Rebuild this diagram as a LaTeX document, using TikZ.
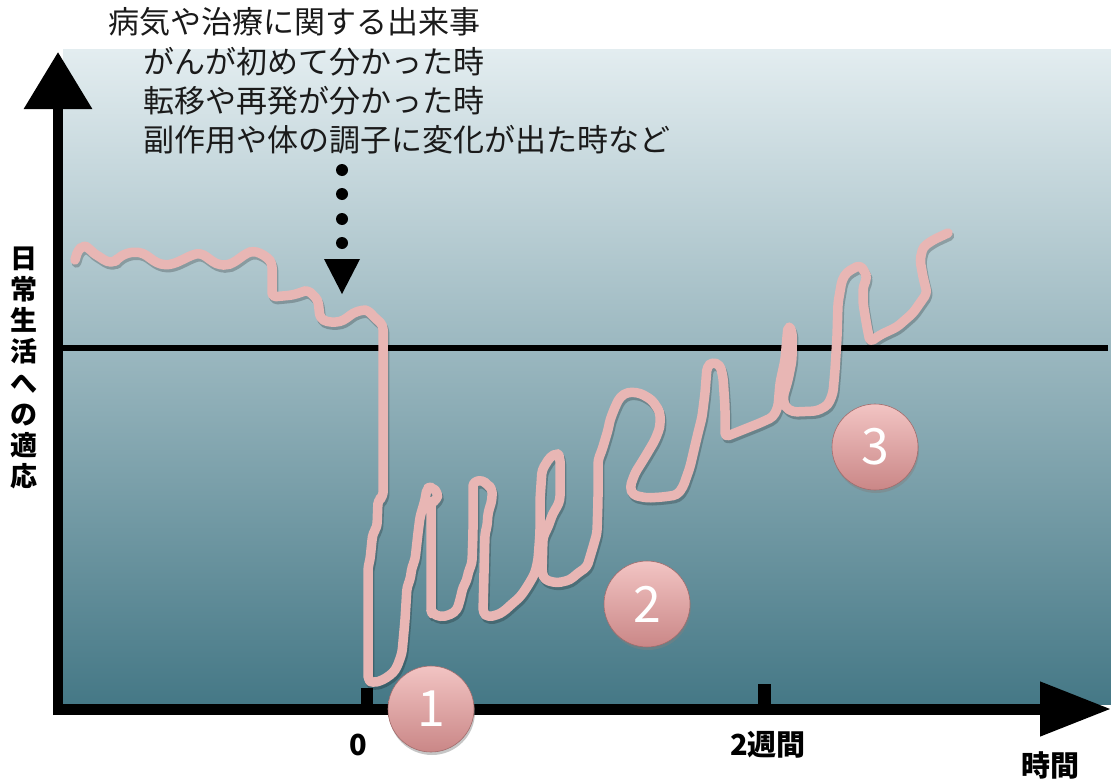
\documentclass[tikz,border=0pt]{standalone}
\usepackage{fontspec}
\newfontfamily\jp{Noto Sans CJK JP}
\usetikzlibrary{arrows.meta,shadows}
\definecolor{pinkline}{HTML}{E8B6B4}
\definecolor{bgtop}{HTML}{E3EDF0}
\definecolor{bgmid}{HTML}{9DBBC3}
\definecolor{bgbot}{HTML}{457886}
\definecolor{btnlight}{HTML}{F2C4C3}
\definecolor{btndark}{HTML}{CA8787}
\definecolor{txtdark}{HTML}{1A1A1A}
\newcommand\pinkcurve[1]{\draw[#1] (75,260) -- (78,250) -- (83,246) -- (88,247) -- (93,253) -- (100,257) -- (107,262) -- (115,262) -- (118,258) -- (127,253) -- (135,252) -- (143,253) -- (150,258) -- (157,263) -- (165,265) -- (173,264) -- (182,260) -- (192,255) -- (200,253) -- (207,257) -- (213,262) -- (220,265) -- (227,265) -- (233,263) -- (240,258) -- (247,253) -- (253,251) -- (260,253) -- (268,258) -- (272,263) -- (272,297) -- (293,295) -- (302,292) -- (308,290) -- (313,295) -- (318,300) -- (320,318) -- (327,322) -- (340,322) -- (347,318) -- (353,313) -- (362,310) -- (368,310) -- (373,316) -- (383,325) -- (383,497) -- (378,500) -- (377,527) -- (373,533) -- (372,540) -- (370,560) -- (368,567) -- (368,680) -- (373,683) -- (383,680) -- (393,673) -- (397,667) -- (402,653) -- (405,620) -- (407,587) -- (410,580) -- (412,567) -- (415,560) -- (418,533) -- (420,517) -- (425,500) -- (427,488) -- (432,487) -- (438,493) -- (437,500) -- (431,502) -- (431,610) -- (432,613) -- (440,617) -- (450,615) -- (457,610) -- (460,600) -- (463,587) -- (467,580) -- (468,573) -- (472,563) -- (473,533) -- (473,482) -- (483,480) -- (487,485) -- (492,488) -- (492,500) -- (488,513) -- (487,527) -- (485,533) -- (483,613) -- (488,617) -- (497,615) -- (503,612) -- (513,603) -- (520,597) -- (525,590) -- (530,582) -- (535,573) -- (538,560) -- (540,533) -- (540,500) -- (542,470) -- (550,457) -- (557,453) -- (560,457) -- (560,500) -- (557,507) -- (553,513) -- (548,527) -- (543,537) -- (542,573) -- (545,580) -- (557,583) -- (570,580) -- (578,573) -- (587,567) -- (590,557) -- (593,547) -- (597,533) -- (598,500) -- (598,460) -- (602,450) -- (605,440) -- (608,430) -- (610,420) -- (615,407) -- (620,397) -- (628,392) -- (640,393) -- (652,400) -- (660,412) -- (660,427) -- (655,440) -- (645,457) -- (635,473) -- (630,487) -- (633,495) -- (647,498) -- (663,497) -- (677,495) -- (683,487) -- (690,467) -- (697,437) -- (702,417) -- (705,393) -- (707,367) -- (712,362) -- (720,365) -- (723,377) -- (725,407) -- (725,437) -- (760,423) -- (773,417) -- (778,407) -- (780,383) -- (785,360) -- (788,326) -- (792,330) -- (792,360) -- (788,380) -- (783,397) -- (785,407) -- (793,412) -- (817,411) -- (828,405) -- (833,393) -- (835,370) -- (837,337) -- (838,303) -- (842,280) -- (847,272) -- (860,265) -- (865,272) -- (867,278) -- (863,287) -- (863,303) -- (867,327) -- (870,342) -- (880,335) -- (897,327) -- (913,313) -- (927,293) -- (923,277) -- (920,260) -- (923,247) -- (933,240) -- (948,233);}
\tikzset{
  curvestyle/.style={line width=9.5pt, line join=round, line cap=round, rounded corners=4pt},
  axisline/.style={line width=10pt, black},
  ticklabel/.style={font=\jp\bfseries\fontsize{29}{32}\selectfont, text=black, inner sep=0pt},
  toptext/.style={font=\jp\fontsize{31}{34}\selectfont, text=txtdark, anchor=west, inner sep=0pt},
  button/.style={circle, minimum size=86pt, inner sep=0pt, top color=btnlight, bottom color=btndark, draw=btndark!80!black, line width=0.6pt, drop shadow={opacity=0.45, shadow xshift=1pt, shadow yshift=-3pt}, font=\jp\fontsize{50}{50}\selectfont, text=white}
}
\begin{document}
\begin{tikzpicture}[x=1pt,y=-1pt]
\useasboundingbox (0,0) rectangle (1111,779);
% background panel
\shade[top color=bgtop, middle color=bgmid, bottom color=bgbot] (63,49) rectangle (1111,704);
% reference line
\coordinate (hl) at (63,348);
\coordinate (hr) at (1108,348);
\draw[line width=5.5pt] (hl) -- (hr);
% curve with shadow
\pinkcurve{curvestyle, black, opacity=0.22, shift={(1.5,3)}}
\pinkcurve{curvestyle, pinkline}
% axes
\coordinate (ybot) at (58,715);
\coordinate (ytop) at (58,52);
\coordinate (xleft) at (53,709);
\coordinate (xend) at (1111,709);
\draw[axisline, -{Triangle[length=57pt,width=66pt]}] (ybot) -- (ytop);
\draw[line width=11pt, -{Triangle[length=71pt,width=52pt]}] (xleft) -- (xend);
% ticks
\coordinate (t0a) at (367,704); \coordinate (t0b) at (367,688);
\coordinate (t2a) at (764,704); \coordinate (t2b) at (764,684);
\draw[line width=12pt] (t0a) -- (t0b);
\draw[line width=13pt] (t2a) -- (t2b);
% event marker
\foreach \yy in {170,194,219,243} \fill (342,\yy) circle (6pt);
\fill (324,259) -- (360,259) -- (342,294) -- cycle;
% texts
\node[toptext] (e0) at (108,22) {病気や治療に関する出来事};
\node[toptext] (e1) at (143,62) {がんが初めて分かった時};
\node[toptext] (e2) at (143,101) {転移や再発が分かった時};
\node[toptext] (e3) at (143,140) {副作用や体の調子に変化が出た時など};
\node[font=\jp\bfseries\fontsize{27}{31.25}\selectfont, align=center, inner sep=0pt] (ylab) at (24,368) {日\\常\\生\\活\\へ\\の\\適\\応};
\node[ticklabel] (l0) at (358,745) {0};
\node[ticklabel] (l2) at (768,745) {2週間};
\node[ticklabel] (lt) at (1050,765) {時間};
% buttons
\node[button] (b1) at (431,709) {1};
\node[button] (b2) at (647,604) {2};
\node[button] (b3) at (875,447) {3};
\end{tikzpicture}
\end{document}
